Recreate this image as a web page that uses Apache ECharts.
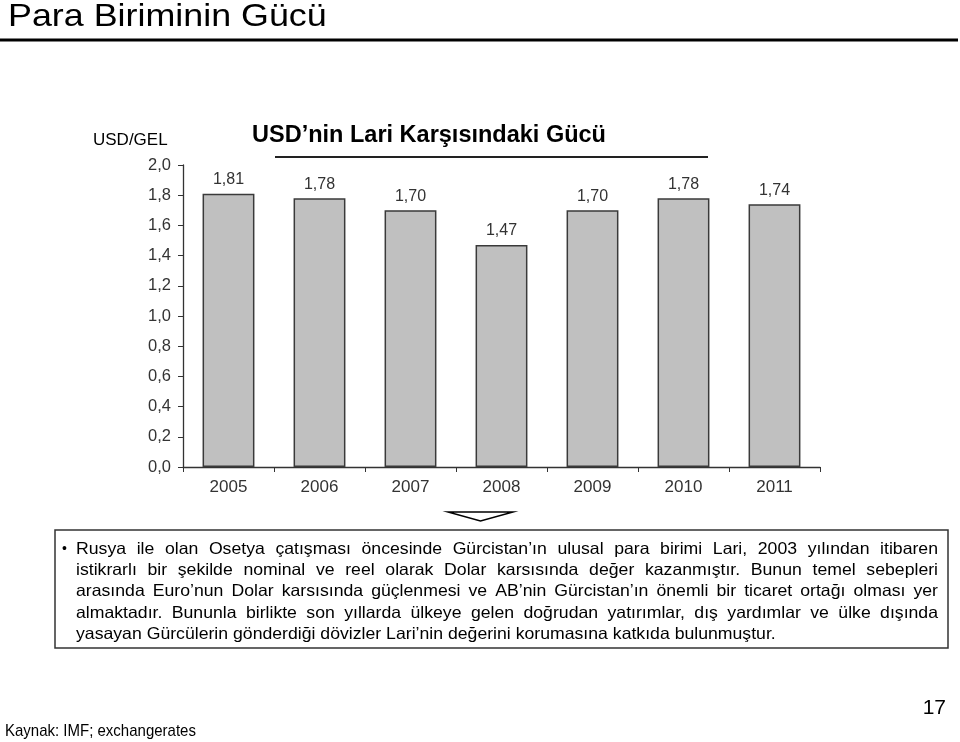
<!DOCTYPE html>
<html>
<head>
<meta charset="utf-8">
<script src="https://cdn.jsdelivr.net/npm/echarts@6/dist/echarts.min.js"></script>
<style>
html,body{margin:0;padding:0;background:#fff;}
#chart{width:960px;height:742px;}
</style>
</head>
<body>
<div id="chart"></div>
<script>
// ---- data ----
const categories = ['2005','2006','2007','2008','2009','2010','2011'];
const values = [1.81, 1.78, 1.70, 1.47, 1.70, 1.78, 1.74];
const yTicks = [0,0.2,0.4,0.6,0.8,1.0,1.2,1.4,1.6,1.8,2.0];

const pageTitle = 'Para Biriminin Gücü';
const chartTitle = 'USD\u2019nin Lari Karşısındaki Gücü';
const unitLabel = 'USD/GEL';
const sourceText = 'Kaynak: IMF; exchangerates';
const pageNumber = '17';
const bodyLines = [
  'Rusya ile olan Osetya çatışması öncesinde Gürcistan\u2019ın ulusal para birimi Lari, 2003 yılından itibaren',
  'istikrarlı bir şekilde nominal ve reel olarak Dolar karsısında değer kazanmıştır. Bunun temel sebepleri',
  'arasında Euro\u2019nun Dolar karsısında güçlenmesi ve AB\u2019nin Gürcistan\u2019ın önemli bir ticaret ortağı olması yer',
  'almaktadır. Bununla birlikte son yıllarda ülkeye gelen doğrudan yatırımlar, dış yardımlar ve ülke dışında',
  'yasayan Gürcülerin gönderdiği dövizler Lari\u2019nin değerini korumasına katkıda bulunmuştur.'
];

const FONT = '"Liberation Sans", Arial, sans-serif';

// justified body text, one text element per word (slightly stretched like the original slide)
const ctx = document.createElement('canvas').getContext('2d');
const bodyFont = '16.5px ' + FONT;
const bodySX = 1.07;
ctx.font = bodyFont;
const textLeft = 76, textRight = 938, firstY = 549, lineH = 21.4;
const bodyEls = [];
bodyLines.forEach((line, i) => {
  const words = line.split(' ');
  const y = firstY + i * lineH;
  const widths = words.map(w => ctx.measureText(w).width * bodySX);
  const total = widths.reduce((a, b) => a + b, 0);
  const last = i === bodyLines.length - 1;
  const gap = last ? ctx.measureText(' ').width * bodySX : (textRight - textLeft - total) / (words.length - 1);
  let x = textLeft;
  words.forEach((w, k) => {
    bodyEls.push({type:'text', x: x, y: y, scaleX: bodySX,
      style:{text: w, font: bodyFont, fill:'#000', verticalAlign:'middle', align:'left'}});
    x += widths[k] + gap;
  });
});

const chart = echarts.init(document.getElementById('chart'), null, {renderer:'canvas'});
chart.setOption({
  backgroundColor:'#fff',
  animation:false,
  grid:{left:183, right:140, top:165, bottom:275, containLabel:false},
  xAxis:{
    type:'category', data:categories,
    axisLine:{lineStyle:{color:'#333', width:1.3}},
    axisTick:{show:true, length:5, lineStyle:{color:'#333'}},
    axisLabel:{color:'#333', fontSize:17, fontFamily:FONT, margin:12}
  },
  yAxis:{
    type:'value', min:0, max:2, interval:0.2,
    axisLine:{show:true, lineStyle:{color:'#333', width:1.3}},
    axisTick:{show:true, length:5, lineStyle:{color:'#333'}},
    splitLine:{show:false},
    axisLabel:{color:'#333', fontSize:16.5, fontFamily:FONT, margin:12,
      formatter: v => v.toFixed(1).replace('.', ',')}
  },
  series:[{
    type:'bar', data:values, barWidth:'57%',
    itemStyle:{color:'#c0c0c0', borderColor:'#3a3a3a', borderWidth:1.5},
    label:{show:true, position:'top', distance:6, color:'#333', fontSize:16, fontFamily:FONT,
      formatter: p => p.value.toFixed(2).replace('.', ',')}
  }],
  graphic:[
    {type:'text', x:8, y:17, scaleX:1.12, style:{text:pageTitle, font:'32px ' + FONT, fill:'#000', verticalAlign:'middle'}},
    {type:'rect', shape:{x:0, y:38.5, width:958, height:3}, style:{fill:'#000'}},
    {type:'text', x:93, y:140, style:{text:unitLabel, font:'17px ' + FONT, fill:'#000', verticalAlign:'middle'}},
    {type:'text', x:429, y:136, style:{text:chartTitle, font:'bold 23.5px ' + FONT, fill:'#000', align:'center', verticalAlign:'middle'}},
    {type:'line', shape:{x1:275, y1:157, x2:708, y2:157}, style:{stroke:'#222', lineWidth:2}},
    {type:'polygon', shape:{points:[[448,512],[513,512],[480.5,521]]}, style:{fill:'#fff', stroke:'#000', lineWidth:1.5}},
    {type:'rect', shape:{x:55, y:530, width:893, height:118}, style:{fill:'none', stroke:'#333', lineWidth:1.5}},
    {type:'text', x:62, y:549, style:{text:'•', font:'14px ' + FONT, fill:'#000', verticalAlign:'middle'}},
    ...bodyEls,
    {type:'text', x:5, y:732, scaleY:1.08, style:{text:sourceText, font:'15px ' + FONT, fill:'#000', verticalAlign:'middle'}},
    {type:'text', x:946, y:708, style:{text:pageNumber, font:'21px ' + FONT, fill:'#000', align:'right', verticalAlign:'middle'}}
  ]
});
</script>
</body>
</html>
